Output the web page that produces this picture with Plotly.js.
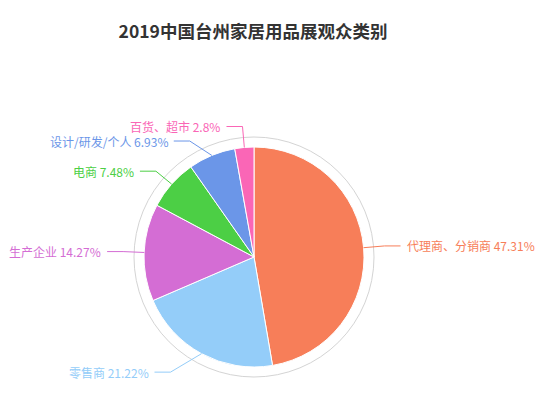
<!DOCTYPE html>
<html>
<head>
<meta charset="utf-8">
<script src="https://cdn.plot.ly/plotly-3.0.1.min.js"></script>
<style>html,body{margin:0;padding:0;background:#fff;}#chart{width:543px;height:393px;}</style>
</head>
<body>
<div id="chart"></div>
<script>
// Data
const categories = ['代理商、分销商', '零售商', '生产企业', '电商', '设计/研发/个人', '百货、超市'];
const values = [47.31, 21.22, 14.27, 7.48, 6.93, 2.8];
const valueLabels = ['47.31%', '21.22%', '14.27%', '7.48%', '6.93%', '2.8%'];
const colors = ['#f77e59', '#94cdf9', '#d46dd4', '#4ccf45', '#6b96e8', '#fa66b6'];

// Layout tweaks (pixels) for label bend points to avoid overlap
const labelShift = [[0, 0], [-21, 0], [0, 0], [0, 1], [-14, 5], [0, 0]];

const W = 543, H = 393;
const cx = 254, cy = 257, R = 110, Rb = 131, Lh = 16, ringR = 120;
const px = x => x / W;
const py = y => 1 - y / H;

const total = values.reduce((a, b) => a + b, 0);
const shapes = [{
  type: 'circle', xref: 'paper', yref: 'paper',
  x0: px(cx - ringR), x1: px(cx + ringR), y0: py(cy + ringR), y1: py(cy - ringR),
  line: {color: '#d4d4d4', width: 1}, layer: 'below'
}];
const annotations = [];
let cum = 0;
values.forEach((v, i) => {
  const mid = (cum + v / 2) / total;
  cum += v;
  const th = mid * 2 * Math.PI;
  const dx = Math.sin(th), dy = -Math.cos(th);
  const ex = cx + R * dx, ey = cy + R * dy;
  const bx = cx + Rb * dx + labelShift[i][0], by = cy + Rb * dy + labelShift[i][1];
  const right = dx >= 0;
  const endx = right ? bx + Lh : bx - Lh;
  shapes.push({
    type: 'path', xref: 'paper', yref: 'paper',
    path: `M ${px(ex)} ${py(ey)} L ${px(bx)} ${py(by)} L ${px(endx)} ${py(by)}`,
    line: {color: colors[i], width: 1}
  });
  annotations.push({
    xref: 'paper', yref: 'paper',
    x: px(right ? endx + 4 : endx - 4), y: py(by),
    xanchor: right ? 'left' : 'right', yanchor: 'middle',
    text: categories[i] + ' ' + valueLabels[i],
    showarrow: false,
    font: {family: '"Noto Sans CJK SC", "Noto Sans", sans-serif', size: 12, color: colors[i]}
  });
});

const trace = {
  type: 'pie',
  labels: categories,
  values: values,
  sort: false,
  direction: 'clockwise',
  rotation: 0,
  textinfo: 'none',
  hoverinfo: 'none',
  marker: {colors: colors, line: {color: '#ffffff', width: 1}},
  domain: {x: [px(cx - R), px(cx + R)], y: [py(cy + R), py(cy - R)]},
  showlegend: false
};

const layout = {
  width: W, height: H,
  margin: {l: 0, r: 0, t: 0, b: 0},
  paper_bgcolor: '#ffffff',
  showlegend: false,
  title: {
    text: '<b>2019中国台州家居用品展观众类别</b>',
    x: px(253), xanchor: 'center',
    y: py(32), yanchor: 'middle', yref: 'paper',
    font: {family: '"Noto Sans CJK SC", "Noto Sans", sans-serif', size: 17.5, color: '#333333'}
  },
  shapes: shapes,
  annotations: annotations
};

Plotly.newPlot('chart', [trace], layout, {staticPlot: true, displayModeBar: false});
</script>
</body>
</html>
